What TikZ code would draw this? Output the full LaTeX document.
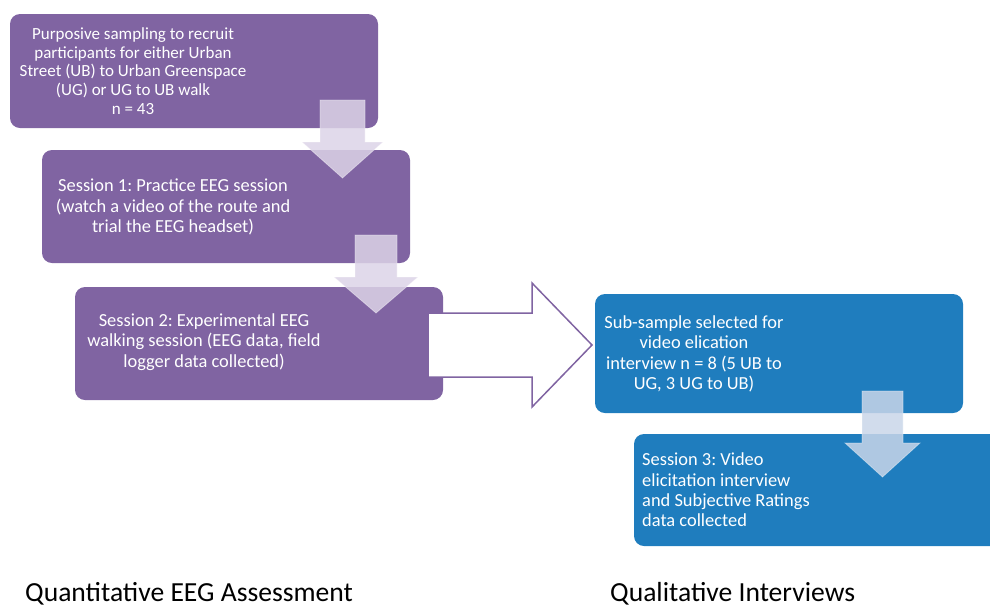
\documentclass[tikz,border=0pt]{standalone}
\usepackage{fontspec}
\setmainfont{Carlito}
\frenchspacing
\usetikzlibrary{positioning}
\definecolor{quantpurple}{HTML}{8064A2}
\definecolor{qualblue}{HTML}{1F7DBE}
\definecolor{quantlight}{HTML}{DCD3E7}
\definecolor{quallight}{HTML}{C9D6E9}
\tikzset {
  stage node/.style = {
    rectangle,
    rounded corners = 10pt,
    inner sep = 0pt,
    minimum width = 368pt,
    minimum height = 114pt
  },
  % quantitative (EEG) stages
  quant/.style = {
    stage node,
    fill = quantpurple
  },
  % qualitative (interview) stages
  qual/.style = {
    stage node,
    fill = qualblue
  },
  stage text/.style = {
    text = white,
    inner sep = 0pt,
    align = center,
    font = \fontsize{18.4}{20.3}\selectfont
  },
  heading/.style = {
    inner sep = 0pt,
    font = \fontsize{27.6}{32}\selectfont
  }
}
\tikzset {
  % translucent block arrow between stages
  down block/.style = {
    fill = #1,
    fill opacity = 0.85,
    draw = white,
    draw opacity = 0.4,
    line width = 0.8pt
  },
  % big outlined arrow between the two columns
  side block/.style = {
    fill = white,
    draw = quantpurple,
    line width = 1.5pt,
    line join = miter
  }
}

\begin{document}
\begin{tikzpicture}[x = 1pt, y = -1pt]
    \useasboundingbox (0,0) rectangle (990,606);
    \clip (0,0) rectangle (990,606);

    \node[quant] (sampling) at (194,71) {};
    \node[stage text, font = \fontsize{17}{18.8}\selectfont] (sampling text) at (133,71)
      {Purposive sampling to recruit\\participants for either Urban\\Street (UB) to Urban Greenspace\\(UG) or UG to UB walk\\n = 43};
    \node[quant, minimum height = 113pt] (practice) at (226,206.5) {};
    \node[stage text] (practice text) at (173,207)
      {Session 1: Practice EEG session\\(watch a video of the route and\\trial the EEG headset)};
    \node[quant, minimum height = 113pt] (walking) at (259,343.5) {};
    \node[stage text] (walking text) at (204,342)
      {Session 2: Experimental EEG\\walking session (EEG data, field\\logger data collected)};

    \node[qual, minimum height = 119pt] (subsample) at (779,353.5) {};
    \node[stage text] (subsample text) at (694,354)
      {Sub-sample selected for\\video elication\\interview n = 8 (5 UB to\\UG, 3 UG to UB)};
    \node[qual, minimum height = 112pt] (elicitation) at (818,490) {};
    \node[stage text, align = left, anchor = west] (elicitation text) at (642,490)
      {Session 3: Video\\elicitation interview\\and Subjective Ratings\\data collected};

    \draw[down block = quantlight] (320,100) -- (365,100) -- (365,142) -- (383,142)
      -- (342.5,178) -- (302,142) -- (320,142) -- cycle;
    \draw[down block = quantlight] (355,235) -- (397,235) -- (397,277) -- (418,277)
      -- (376,313) -- (334,277) -- (355,277) -- cycle;
    \draw[down block = quallight] (862,391) -- (903,391) -- (903,443) -- (920,443)
      -- (882.5,477) -- (845,443) -- (862,443) -- cycle;

    \draw[side block] (428,313) -- (532,313) -- (532,283) -- (592,345)
      -- (532,407) -- (532,377) -- (428,377) -- cycle;

    \node[heading, anchor = base west] (quant label) at (25,601) {Quantitative EEG Assessment};
    \node[heading, anchor = base west] (qual label) at (610,601) {Qualitative Interviews};

  \end{tikzpicture}
\end{document}
